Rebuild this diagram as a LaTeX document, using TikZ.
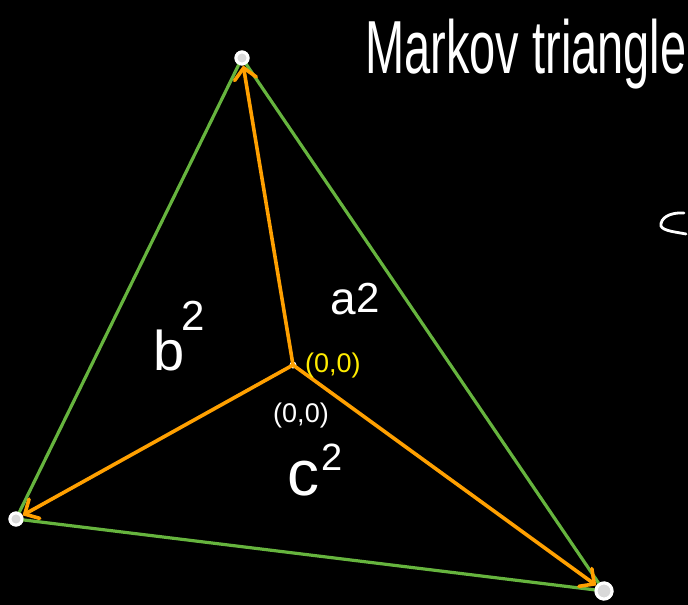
\documentclass[tikz,border=0pt]{standalone}
\usepackage{fontspec}
\setmainfont{Liberation Sans}
\usetikzlibrary{arrows.meta}
\definecolor{edgegreen}{RGB}{102,180,62}
\definecolor{spokeorange}{RGB}{255,160,0}
\definecolor{labelyellow}{RGB}{255,236,0}
\tikzset{
  vert/.style={circle,draw=white,fill=white!85!black,line width=3pt,inner sep=0pt,minimum size=12pt},
  centerdot/.style={circle,fill=white,inner sep=0pt,minimum size=7pt},
  edge/.style={draw=edgegreen,line width=3.2pt,line cap=round},
  spoke/.style={draw=spokeorange,line width=3.6pt,line cap=round,
    -{Straight Barb[length=11pt,width=22pt,line cap=round]}},
  lbl/.style={text=white,inner sep=0pt},
}
\newcommand{\supr}[2]{\raisebox{#1}{\fontsize{#2}{#2}\selectfont 2}}
\begin{document}
\begin{tikzpicture}[x=1pt,y=-1pt]
\fill[black] (0,0) rectangle (688,605);
\useasboundingbox (0,0) rectangle (688,605);

\node[vert] (A) at (242,58) {};
\node[vert] (B) at (16,519) {};
\node[vert,minimum width=16pt,minimum height=12pt,rotate=20] (C) at (604,591) {};

\draw[edge] (A.center) -- (B.center);
\draw[edge] (A.center) -- (C.center);
\draw[edge] (B.center) -- (C.center);

\node[vert] at (242,58) {};
\node[vert] at (16,519) {};
\node[vert,minimum width=16pt,minimum height=12pt,rotate=20] at (604,591) {};
\node[centerdot] (O) at (293,365) {};

\draw[spoke] (O.center) -- (A);
\draw[spoke] (O.center) -- (B);
\draw[spoke] (O.center) -- (C);

\node[lbl,anchor=base west] (title) at (365,73)
  {\fontsize{47}{47}\selectfont\scalebox{1}[1.6]{Markov triangle}};

\node[lbl,anchor=base west,font=\fontsize{56}{56}\selectfont] (b2) at (153,370) {b\kern-3pt\supr{40pt}{42}};
\node[lbl,anchor=base west,font=\fontsize{46}{46}\selectfont] (a2) at (330,314) {a\kern1pt\supr{2pt}{42}};
\node[lbl,anchor=base west,font=\fontsize{64}{64}\selectfont] (c2) at (287,495) {c\kern2pt\supr{25pt}{38}};

\node[lbl,text=labelyellow,font=\fontsize{27}{27}\selectfont,anchor=west] (o1) at (305,366) {(0,0)};
\node[lbl,font=\fontsize{27}{27}\selectfont] (o2) at (301,416) {(0,0)};

\draw[white,line width=2.8pt,line cap=round]
  (684,213) .. controls (670,212) and (660,218) .. (661,226)
  .. controls (663,231) and (676,232) .. (686,234);
\end{tikzpicture}
\end{document}
